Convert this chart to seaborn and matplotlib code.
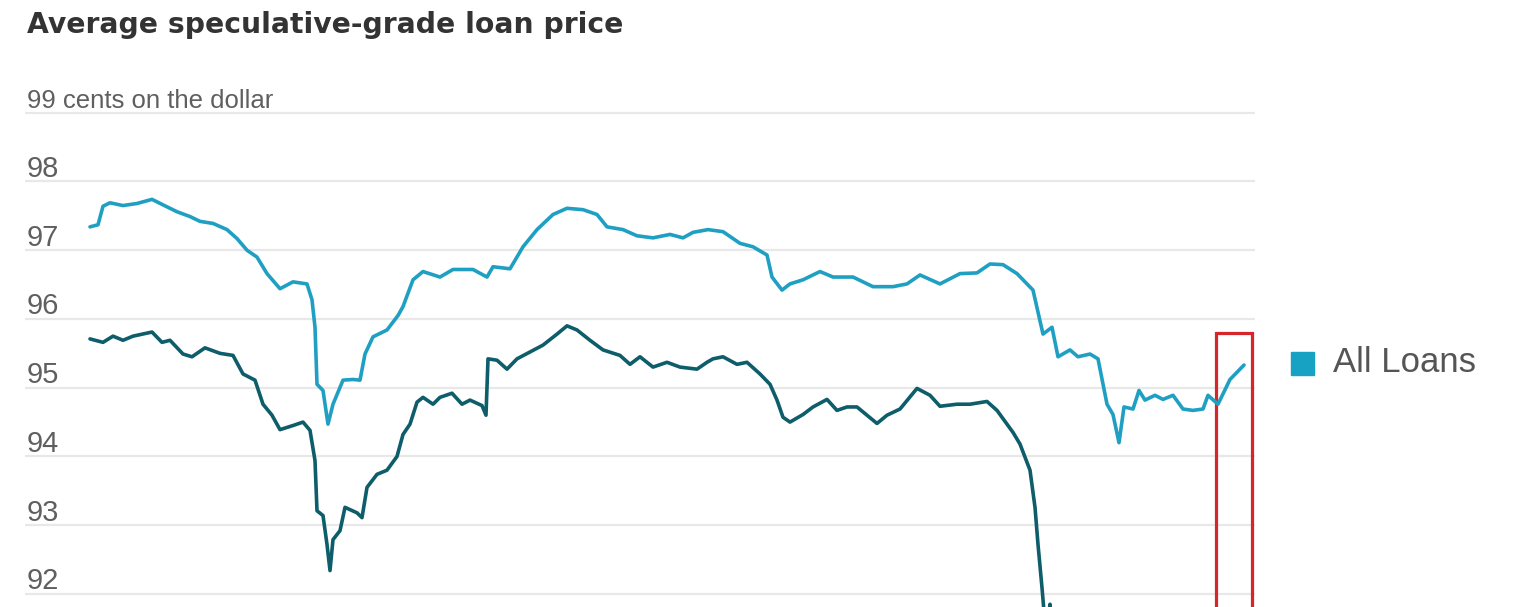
import matplotlib
matplotlib.use("Agg")
import matplotlib.pyplot as plt
from matplotlib.patches import Rectangle
from matplotlib.transforms import ScaledTranslation
import seaborn as sns
import pandas as pd

all_weeks = [0, 1.6, 2.6, 4, 6.6, 9.4, 12.4, 14.6, 17.4, 20, 22, 24.6, 27.4, 29.4,
             31.4, 33.4, 35.4, 38, 40.6, 43.4, 44.4, 45, 45.4, 46.6, 47.6, 48.6,
             50.6, 52.6, 54, 55, 56.6, 59.4, 61.6, 62.6, 64.6, 66.6, 70, 72.6,
             76.6, 79.4, 80.6, 84, 86.6, 89.4, 92.6, 95.4, 98.6, 101.4, 103.4,
             106.6, 109.4, 112.6, 116, 118.6, 120.6, 123.6, 126.6, 130, 132.6,
             135.4, 136.4, 138.4, 140, 142.6, 146, 148.6, 152.6, 156.6, 160.6,
             163.4, 166, 170, 174, 177.4, 180, 182.6, 185.4, 188.6, 190.6, 192.4,
             193.6, 196, 197.6, 200, 201.6, 203.4, 204.6, 205.8, 206.8, 208.6,
             209.8, 211, 213, 214.6, 216.6, 218.6, 220.6, 222.6, 223.6, 225.6,
             228, 230.8]
all_loans = [97.34, 97.37, 97.64, 97.69, 97.65, 97.68, 97.74, 97.66, 97.56, 97.49,
             97.42, 97.39, 97.30, 97.17, 97.0, 96.9, 96.66, 96.44, 96.54, 96.51,
             96.28, 95.88, 95.05, 94.96, 94.47, 94.76, 95.11, 95.12, 95.11, 95.49,
             95.74, 95.84, 96.05, 96.18, 96.57, 96.69, 96.61, 96.72, 96.72, 96.61,
             96.76, 96.73, 97.05, 97.30, 97.52, 97.61, 97.59, 97.52, 97.34, 97.30,
             97.21, 97.18, 97.23, 97.18, 97.26, 97.30, 97.27, 97.10, 97.05, 96.93,
             96.61, 96.42, 96.51, 96.57, 96.69, 96.61, 96.61, 96.47, 96.47, 96.51,
             96.64, 96.51, 96.66, 96.67, 96.80, 96.79, 96.66, 96.42, 95.78, 95.88,
             95.45, 95.55, 95.45, 95.49, 95.42, 94.76, 94.61, 94.20, 94.72, 94.69,
             94.96, 94.82, 94.89, 94.83, 94.89, 94.69, 94.67, 94.69, 94.89, 94.76,
             95.12, 95.33]

other_weeks = [0, 2.6, 4.6, 6.6, 8.6, 12.4, 14.4, 16, 18.6, 20.4, 23, 26, 28.6,
               30.6, 33, 34.6, 36.4, 38, 40.6, 42.6, 44, 45, 45.4, 46.6, 47.4, 48,
               48.6, 50, 51, 53.4, 54.4, 55.4, 57.4, 59.4, 61.4, 62.6, 64, 65.4,
               66.6, 68.6, 70, 72.4, 74.4, 76, 78.4, 79.2, 79.6, 81.4, 83.4, 85.4,
               88, 90.6, 93.4, 95.4, 97.4, 100, 102.6, 106, 108, 110, 112.6, 115.4,
               118, 121.4, 123.4, 124.6, 126.6, 129.4, 131.4, 134, 136, 137.4,
               138.6, 140, 142.6, 144.6, 147.4, 149.4, 151.4, 153.4, 155.4, 157.4,
               159.4, 162, 165.4, 168, 170, 173.4, 176, 179.4, 181.4, 183.4, 184.6,
               186, 188, 189, 189.6, 190.4, 191.2, 192, 192.8]
other_loans = [95.71, 95.66, 95.75, 95.69, 95.75, 95.81, 95.66, 95.69, 95.49, 95.45,
               95.58, 95.50, 95.47, 95.20, 95.11, 94.76, 94.60, 94.39, 94.45, 94.50,
               94.38, 93.94, 93.21, 93.14, 92.72, 92.34, 92.79, 92.92, 93.26, 93.18,
               93.11, 93.55, 93.74, 93.80, 94.0, 94.32, 94.47, 94.79, 94.86, 94.76,
               94.86, 94.92, 94.76, 94.82, 94.74, 94.60, 95.42, 95.40, 95.27, 95.42,
               95.52, 95.62, 95.78, 95.90, 95.84, 95.69, 95.55, 95.47, 95.34, 95.45,
               95.30, 95.37, 95.30, 95.27, 95.37, 95.42, 95.45, 95.34, 95.37, 95.20,
               95.05, 94.82, 94.57, 94.50, 94.61, 94.72, 94.83, 94.67, 94.72, 94.72,
               94.60, 94.48, 94.60, 94.69, 94.99, 94.89, 94.73, 94.76, 94.76, 94.80,
               94.67, 94.47, 94.35, 94.18, 93.80, 93.26, 92.72, 92.09, 91.4, 91.85,
               91.3]

y_ticks = [92, 93, 94, 95, 96, 97, 98, 99]
y_labels = ["92", "93", "94", "95", "96", "97", "98", "99 cents on the dollar"]

all_df = pd.DataFrame({"week": all_weeks, "price": all_loans})
other_df = pd.DataFrame({"week": other_weeks, "price": other_loans})

sns.set_style("white")
plt.rcParams["font.family"] = ["Liberation Sans", "DejaVu Sans"]

W, H = 1521, 607
fig = plt.figure(figsize=(W / 100, H / 100), dpi=100)
ax = fig.add_axes([25 / W, 0, 1230 / W, 497 / H])

sns.lineplot(data=other_df, x="week", y="price", ax=ax, color="#0e5d6a", linewidth=2.6)
sns.lineplot(data=all_df, x="week", y="price", ax=ax, color="#1fa0c3", linewidth=2.6)

ax.set_xlim(-13, 233)
ax.set_ylim(91.81, 99.04)
ax.set_xlabel("")
ax.set_ylabel("")
ax.set_xticks([])
ax.set_yticks(y_ticks)
ax.set_yticklabels(y_labels)
ax.yaxis.grid(True, color="#e8e8e8", linewidth=1.6)
ax.xaxis.grid(False)
for side in ["left", "right", "top", "bottom"]:
    ax.spines[side].set_visible(False)

# WSJ style: labels sit on top of the gridlines, left aligned
ax.tick_params(axis="y", length=0, pad=0)
shift = ScaledTranslation(0.02, 0.045, fig.dpi_scale_trans)
for lab in ax.get_yticklabels():
    lab.set_horizontalalignment("left")
    lab.set_verticalalignment("baseline")
    lab.set_transform(lab.get_transform() + shift)
    lab.set_color("#5f5f5f")
    lab.set_fontsize(21)
ax.get_yticklabels()[-1].set_fontsize(18.5)

# red highlight box around the latest readings
ax.add_patch(Rectangle((225.2, 91.0), 7.2, 95.80 - 91.0, fill=False,
                       edgecolor="#d7262b", linewidth=2.3))

fig.text(27 / W, 1 - 33 / H, "Average speculative-grade loan price",
         fontsize=20.3, fontweight="bold", color="#333333", family=["DejaVu Sans"])

# legend
fig.add_artist(Rectangle((1291 / W, 1 - 375 / H), 23 / W, 23 / H,
                         transform=fig.transFigure, color="#17a2c4"))
fig.text(1333 / W, 1 - 363 / H, "All Loans", va="center", fontsize=25, color="#555555")

fig.savefig("out.png", dpi=100)
